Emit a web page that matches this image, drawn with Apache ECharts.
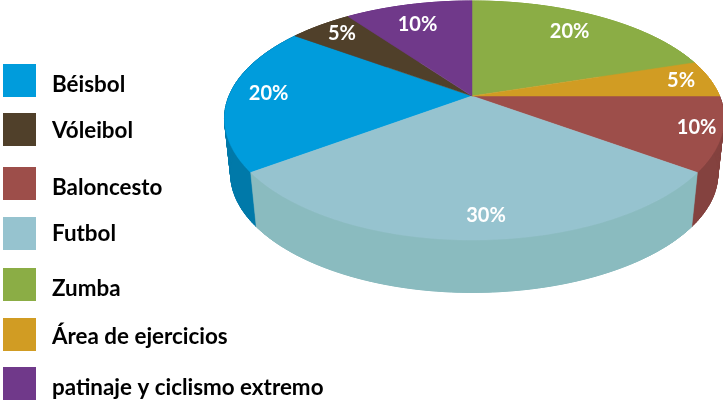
<!DOCTYPE html>
<html>
<head>
<meta charset="utf-8">
<style>
  html, body { margin: 0; padding: 0; background: #fff; }
  #chart { width: 723px; height: 400px; }
</style>
</head>
<body>
<div id="chart"></div>
<script src="https://cdn.jsdelivr.net/npm/echarts@6/dist/echarts.min.js"></script>
<script>
// legend order
const categories = ['Béisbol', 'Vóleibol', 'Baloncesto', 'Futbol', 'Zumba', 'Área de ejercicios', 'patinaje y ciclismo extremo']
const shares = [20, 5, 10, 30, 20, 5, 10]
// clockwise from 12 o'clock, indexes into categories
const sliceOrder = [4, 5, 2, 3, 0, 1, 6]

const topColors = ['#009cdc', '#50402a', '#9d4e4a', '#96c3cf', '#8bad45', '#d19c23', '#70398a']
const sideColors = ['#0079a9', '#50402a', '#84423f', '#8abbbf', '#8bad45', '#d19c23', '#70398a']

// label tweaks and legend rows, px
const labelNudge = [[-9, -2], [-6, -4], [27, 2], [14, 10], [-6, 1], [18, -1], [-2, 4]]
const legendTops = [64, 113, 167, 217, 268, 318, 367]
const legendTextShift = [4, 1, 4, 0, 4, 2, 4]

// tilted disc, fitted to the reference outline
const cx = 472, cy = 96, rxRight = 247.5, rxLeft = 243, ry = 114.5
const tiltX = 0.19, tiltY = 0.205
const depth = 56, floorScale = 0.975

function project(deg, f) {
  const a = deg * Math.PI / 180
  const u = Math.sin(a) * f, v = Math.cos(a) * f
  const rx = u > 0 ? rxRight : rxLeft
  return [cx + rx * u / (1 + tiltX * v), cy - ry * v / (1 + tiltY * v)]
}

function arc(a0, a1) {
  const n = Math.max(2, Math.ceil(a1 - a0))
  const pts = []
  for (let i = 0; i <= n; i++) pts.push(project(a0 + (a1 - a0) * i / n, 1))
  return pts
}

function toFloor(p) {
  return [cx + (p[0] - cx) * floorScale, cy + (p[1] - cy) * floorScale + depth]
}

function startAngle(idx) {
  let sum = 0
  for (const k of sliceOrder) {
    if (k === idx) break
    sum += shares[k]
  }
  return sum * 3.6
}

function makeRenderItem(idx) {
  return function (params, api) {
    const val = api.value(0)
    const a0 = startAngle(idx), a1 = a0 + val * 3.6
    const rim = arc(a0, a1)
    const floor = rim.map(toFloor)
    // strips fill the silhouette notches, the solid wall on top hides their seams
    const strips = rim.slice(1).map((p, i) => ({
      type: 'polygon', z2: 1,
      shape: { points: [rim[i], p, floor[i + 1], floor[i]] },
      style: { fill: sideColors[idx], stroke: sideColors[idx], lineWidth: 1 }
    }))
    const lp = project((a0 + a1) / 2, 0.8)
    return {
      type: 'group',
      children: strips.concat([
        {
          type: 'polygon', z2: 2,
          shape: { points: rim.concat(floor.slice().reverse()) },
          style: { fill: sideColors[idx], stroke: sideColors[idx], lineWidth: 0.5 }
        },
        {
          type: 'polygon', z2: 3,
          shape: { points: [[cx, cy]].concat(rim) },
          style: { fill: topColors[idx], stroke: topColors[idx], lineWidth: 0.5 }
        },
        {
          type: 'text', z2: 4,
          x: lp[0] + labelNudge[idx][0], y: lp[1] + labelNudge[idx][1],
          style: {
            text: val + '%', fill: '#fff',
            font: 'bold 20px Lato', align: 'center', verticalAlign: 'middle'
          }
        }
      ])
    }
  }
}

const chart = echarts.init(document.getElementById('chart'))
chart.setOption({
  backgroundColor: '#fff',
  animation: false,
  legend: categories.map((name, i) => ({
    data: [name],
    left: 3, top: legendTops[i],
    padding: 0,
    icon: 'rect', itemWidth: 33, itemHeight: 33,
    selectedMode: false,
    formatter: '{t|{name}}',
    textStyle: {
      rich: {
        t: {
          color: '#000', fontFamily: 'Lato', fontWeight: 'bold', fontSize: 22.4,
          padding: [legendTextShift[i] * 2, 0, 0, 11]
        }
      }
    }
  })),
  series: categories.map((name, i) => ({
    type: 'custom',
    name,
    coordinateSystem: 'none',
    itemStyle: { color: topColors[i] },
    data: [[shares[i]]],
    renderItem: makeRenderItem(i)
  }))
})
</script>
</body>
</html>
